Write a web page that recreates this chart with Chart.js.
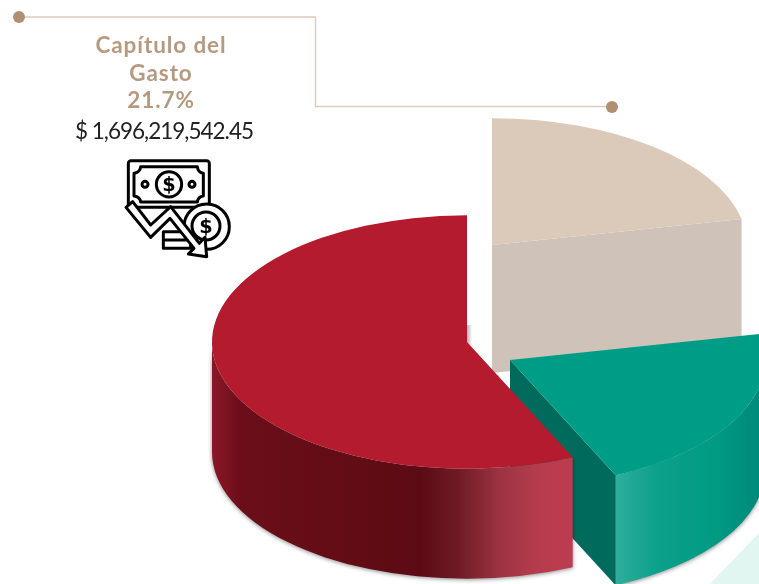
<!DOCTYPE html>
<html lang="es">
<head>
<meta charset="utf-8">
<title>Capítulo del Gasto</title>
<script src="https://cdn.jsdelivr.net/npm/chart.js@4"></script>
<style>
html,body{margin:0;padding:0;background:#fff;width:759px;height:584px;overflow:hidden}
#stage{position:relative;width:759px;height:584px;overflow:hidden}
#deco,#icon,#chart,#stub{position:absolute}
#deco{left:0;top:0}
#stub{left:467px;top:325px;width:5px;height:20px;background:linear-gradient(90deg,#b4b4b4,#fff)}
#chart{left:0;top:0}
.t{position:absolute;left:61px;width:200px;text-align:center;font-family:Lato,sans-serif;white-space:nowrap}
.h{color:#b59a80;font-weight:700;font-size:22.5px;line-height:27px;letter-spacing:.9px}
.a{color:#222;font-size:22.5px;line-height:27px;letter-spacing:-1px;left:64px}
</style>
</head>
<body>
<div id="stage">
<svg id="deco" width="759" height="584">
  <polygon points="710,584 759,533 759,584" fill="#e2f6f1"/>
  <polyline points="19,17 315.5,17 315.5,106.5 612,106.5" fill="none" stroke="#dccbbd" stroke-width="1.4"/>
  <circle cx="19" cy="17" r="6" fill="#b08f72"/>
  <circle cx="612" cy="107" r="6" fill="#b08f72"/>
</svg>
<div id="stub"></div>
<canvas id="chart" width="759" height="584"></canvas>
<div class="t h" style="top:31px">Capítulo del</div>
<div class="t h" style="top:59px">Gasto</div>
<div class="t h" style="top:86px">21.7%</div>
<div class="t a" style="top:117px">$ 1,696,219,542.45</div>
<svg id="icon" style="left:110px;top:150px" width="130" height="115" viewBox="0 0 390 345">
  <g fill="#fff" stroke="#000" stroke-width="9" stroke-linejoin="round">
    <rect x="55" y="32" width="243" height="140" rx="8"/>
    <path d="M92 50H262Q264 68 280 70V138Q264 140 262 156H92Q90 140 72 138V70Q90 68 92 50Z"/>
    <circle cx="177" cy="103" r="38"/>
    <circle cx="105" cy="103" r="9"/>
    <circle cx="246" cy="103" r="9"/>
    <rect x="160" y="245" width="82" height="50"/>
    <line x1="160" y1="270" x2="242" y2="270"/>
    <circle cx="290" cy="230" r="68"/>
    <circle cx="288" cy="228" r="42"/>
    <polygon points="48,172 68,155 122,225 182,170 268,280 285,262 290,320 235,312 252,295 180,205 122,262"/>
  </g>
  <text x="177" y="124" text-anchor="middle" font-family="DejaVu Sans" font-weight="700" font-size="58" fill="#000">$</text>
  <text x="288" y="249" text-anchor="middle" font-family="DejaVu Sans" font-weight="700" font-size="58" fill="#000">$</text>
</svg>
</div>
<script>
// Data
const categories = ['Capítulo del Gasto', 'Segundo capítulo', 'Tercer capítulo'];
const shares = [21.7, 21.5, 56.8];

// Styling
const topColors = ['#dbc9ba', '#009d86', '#b51b2f'];
const faceColors = ['#cfc2b9', '#006b5c', '#b51b2f'];
const apexes = [[492, 245], [510, 360], [467, 342]];
const wallRanges = [[492, 741], [615, 760], [212, 571]];
const wallStops = [
  [[0, '#cfc2b9'], [1, '#cfc2b9']],
  [[0, '#2fae9b'], [0.3, '#0ba08a'], [0.7, '#009a83'], [1, '#00897a']],
  [[0, '#8c1727'], [0.08, '#6b0e19'], [0.58, '#5c0b14'], [0.68, '#6d1a24'], [0.8, '#9c3342'], [0.9, '#b53c4c'], [1, '#be3b50']]
];
const TILT = 0.497;
const DEPTHS = [128, 110, 110];
const RADIUS = 255;

const pie3d = {
  id: 'pie3d',
  beforeDatasetsDraw(chart) {
    const ctx = chart.ctx;
    const arcs = chart.getDatasetMeta(0).data;
    arcs.forEach((el, i) => {
      const [ax, ay] = apexes[i];
      const d = DEPTHS[i];
      const r = el.outerRadius;
      const ry = r * TILT;
      const a1 = Math.max(el.startAngle, 0);
      const a2 = Math.min(el.endAngle, Math.PI);
      // outer wall (only the part facing the viewer)
      if (a2 > a1) {
        const g = ctx.createLinearGradient(wallRanges[i][0], 0, wallRanges[i][1], 0);
        wallStops[i].forEach(s => g.addColorStop(s[0], s[1]));
        ctx.save();
        ctx.shadowColor = 'rgba(0,0,0,0.45)';
        ctx.shadowBlur = 4;
        ctx.shadowOffsetY = 1;
        ctx.beginPath();
        ctx.ellipse(ax, ay, r, ry, 0, a1, a2);
        ctx.ellipse(ax, ay + d, r, ry, 0, a2, a1, true);
        ctx.closePath();
        ctx.fillStyle = g;
        ctx.fill();
        ctx.restore();
      }
      // cut face at the end angle
      const ex = ax + r * Math.cos(el.endAngle);
      const ey = ay + ry * Math.sin(el.endAngle);
      ctx.beginPath();
      ctx.moveTo(ax, ay);
      ctx.lineTo(ex, ey);
      ctx.lineTo(ex, ey + d);
      ctx.lineTo(ax, ay + d);
      ctx.closePath();
      ctx.fillStyle = faceColors[i];
      if (i !== 2) ctx.fill();
      // top face: the library's own arc, flattened
      ctx.save();
      ctx.translate(ax, ay);
      ctx.scale(1, TILT);
      ctx.translate(-el.x, -el.y);
      el.draw(ctx);
      ctx.restore();
    });
    return false;
  }
};

new Chart(document.getElementById('chart'), {
  type: 'pie',
  data: {
    labels: categories,
    datasets: [{ data: shares, backgroundColor: topColors, borderWidth: 0, radius: RADIUS }]
  },
  options: {
    responsive: false,
    animation: false,
    rotation: 0,
    layout: { padding: 0 },
    plugins: { legend: { display: false }, tooltip: { enabled: false } }
  },
  plugins: [pie3d]
});
</script>
</body>
</html>
